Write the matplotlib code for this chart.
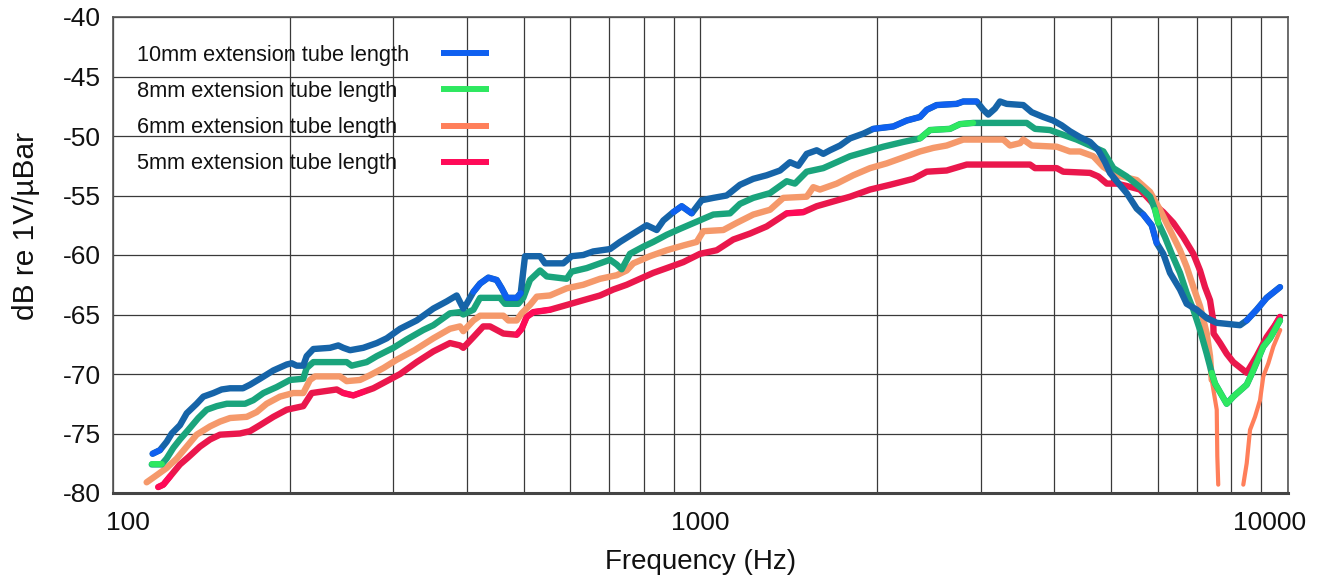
import numpy as np
import matplotlib
matplotlib.use("Agg")
import matplotlib.pyplot as plt
from matplotlib.lines import Line2D
from matplotlib.transforms import ScaledTranslation
from matplotlib.ticker import LogLocator, NullFormatter

plt.rcParams['font.family'] = ['Liberation Sans', 'DejaVu Sans']
plt.rcParams['axes.unicode_minus'] = False

# ---------------- data ----------------
labels = ["10mm extension tube length", "8mm extension tube length",
          "6mm extension tube length", "5mm extension tube length"]

f10 = [116.8, 120.2, 123.4, 125.9, 130.0, 133.5, 138.8, 142.5, 148.2, 153.1, 158.2, 166.4,
       171.1, 177.9, 187.5, 197.6, 201.5, 205.4, 210.8, 213.6, 219.3, 234.1, 241.8, 246.6,
       253.2, 266.7, 281.2, 292.4, 308.1, 328.8, 351.0, 369.8, 384.6, 394.7, 399.9, 410.6,
       421.5, 435.4, 449.9, 458.8, 467.9, 486.6, 494.3, 502.7, 533.2, 543.7, 584.0, 603.4,
       631.6, 656.8, 701.5, 729.5, 768.5, 809.9, 842.3, 864.5, 898.9, 928.9, 966.1, 1004.6,
       1051.4, 1108, 1167.5, 1229.8, 1296.1, 1365.5, 1420, 1467, 1516.3, 1576.8, 1618.2, 1661,
       1727.8, 1797.1, 1892.9, 1968.5, 2129, 2244, 2364, 2427, 2523, 2729, 2801, 2952, 3030,
       3089, 3171, 3234, 3320, 3543, 3662, 3831, 3984, 4118, 4254, 4426, 4603, 4755, 4882,
       4977, 5110, 5314, 5527, 5671, 5861, 5977, 6134, 6297, 6549, 6723, 6994, 7272, 7563,
       8286, 8506, 8844, 9197, 9692]
db10 = [-76.7, -76.4, -75.7, -75.0, -74.3, -73.3, -72.5, -71.9, -71.6, -71.3, -71.2, -71.2,
        -70.9, -70.4, -69.7, -69.2, -69.1, -69.3, -69.3, -68.5, -67.9, -67.8, -67.6, -67.8,
        -68.0, -67.8, -67.4, -67.0, -66.2, -65.5, -64.5, -63.9, -63.4, -64.5, -64.1, -63.1,
        -62.4, -61.9, -62.1, -62.8, -63.6, -63.6, -63.2, -60.1, -60.1, -60.7, -60.7, -60.1,
        -60.0, -59.7, -59.5, -58.9, -58.2, -57.5, -57.9, -57.1, -56.4, -55.9, -56.5, -55.4,
        -55.2, -55.0, -54.1, -53.6, -53.3, -52.9, -52.2, -52.5, -51.5, -51.2, -51.5, -51.2,
        -50.8, -50.2, -49.8, -49.4, -49.2, -48.7, -48.4, -47.8, -47.4, -47.3, -47.1, -47.1, -47.8,
        -48.2, -47.7, -47.1, -47.3, -47.4, -48.0, -48.4, -48.7, -49.1, -49.6, -50.1, -50.5, -51.2, -52.2,
        -53.1, -53.8, -54.8, -56.1, -56.6, -57.5, -59.0, -59.9, -61.5, -62.9, -64.1, -64.6, -65.3, -65.7,
        -65.9, -65.5, -64.6, -63.6, -62.7]

f8 = [116.4, 121.0, 123.4, 126.7, 130.0, 134.3, 139.7, 144.4, 150.2, 156.2, 167.8, 173.3,
      180.3, 189.9, 200.1, 210.8, 213.6, 219.3, 249.9, 254.8, 270.3, 281.2, 300.1, 316.2,
      337.5, 351.0, 374.6, 389.6, 394.7, 410.6, 421.5, 455.8, 464.8, 489.6, 499.3, 512.6,
      533.2, 547.4, 591.9, 603.4, 640.2, 674.6, 701.5, 720.1, 734.3, 758.6, 799.2, 831.2,
      876.1, 922.9, 985.2, 1051.4, 1122.6, 1167.5, 1229.8, 1313, 1402, 1448, 1516.3, 1618.2,
      1705.6, 1797.1, 1918.3, 2047, 2214, 2364, 2458, 2659, 2765, 2913, 3591, 3710, 3934,
      4144, 4368, 4603, 4850, 5044, 5314, 5599, 5824, 5939, 6016, 6175, 6339, 6549, 6723,
      6901, 7084, 7272, 7416, 7513, 7864, 8070, 8506, 8727, 9078, 9320, 9692]
db8 = [-77.6, -77.6, -77.1, -76.2, -75.5, -74.7, -73.7, -73.0, -72.7, -72.5, -72.5, -72.2,
       -71.6, -71.1, -70.5, -70.4, -69.5, -69.0, -69.0, -69.3, -69.0, -68.5, -67.8, -67.1,
       -66.3, -65.9, -64.9, -64.8, -65.0, -64.6, -63.6, -63.6, -64.1, -64.1, -63.6, -62.1,
       -61.3, -61.8, -62.0, -61.4, -61.1, -60.7, -60.4, -60.8, -61.2, -59.9, -59.3, -58.9,
       -58.3, -57.8, -57.2, -56.6, -56.5, -55.7, -55.2, -54.8, -53.8, -54.0, -53.0, -52.7,
       -52.2, -51.7, -51.3, -50.9, -50.5, -50.2, -49.5, -49.4, -49.0, -48.9, -48.9, -49.4, -49.5,
       -49.9, -50.3, -50.8, -51.3, -52.7, -53.4, -54.3, -55.1, -56.2, -57.3, -58.5, -59.9, -61.5, -63.2,
       -64.6, -66.3, -68.3, -69.9, -70.8, -72.5, -71.9, -70.9, -69.7, -67.7, -67.0, -65.5]

f6 = [114.1, 118.7, 123.4, 128.4, 133.5, 138.8, 146.3, 152.1, 158.2, 168.9, 175.6, 182.6,
      192.4, 202.7, 210.8, 216.4, 220.8, 243.4, 249.9, 263.3, 273.8, 288.6, 304.1, 326.0,
      351.0, 374.6, 389.6, 394.7, 410.6, 421.5, 461.8, 470.9, 486.6, 496.2, 512.6, 526.4,
      554.4, 591.9, 631.6, 674.6, 720.1, 748.8, 768.5, 820.4, 876.1, 934.8, 985.2, 1011,
      1093.6, 1152.5, 1229.8, 1313, 1383.6, 1516.3, 1555.9, 1597.2, 1705.6, 1820, 1943.6,
      2074.6, 2244, 2364, 2491, 2624, 2801, 3277, 3364, 3499, 3543, 3662, 4040, 4254, 4426,
      4662, 4850, 5110, 5527, 5824, 6055, 6297, 6549, 6723, 6901, 7084, 7272, 7367, 7416,
      7563, 7580, 7608, 8000, 8393, 8506, 8617, 8787, 8961, 9078, 9258, 9441, 9700]
db6 = [-79.1, -78.5, -77.9, -77.1, -76.1, -75.1, -74.4, -74.0, -73.7, -73.6, -73.2, -72.5,
       -71.9, -71.6, -71.6, -70.5, -70.2, -70.2, -70.6, -70.5, -70.1, -69.5, -68.8, -68.0,
       -67.0, -66.2, -66.0, -66.4, -65.5, -65.1, -65.1, -65.5, -65.5, -64.9, -64.2, -63.5,
       -63.4, -62.8, -62.5, -62.0, -61.7, -61.3, -60.7, -60.1, -59.6, -59.2, -58.9, -58.0,
       -57.9, -57.3, -56.6, -56.2, -55.2, -55.1, -54.3, -54.5, -54.0, -53.3, -52.7,
       -52.3, -51.7, -51.3, -51.0, -50.8, -50.3, -50.3, -50.8, -50.6, -50.3, -50.8, -50.9, -51.3, -51.3,
       -51.7, -52.6, -53.3, -53.7, -54.7, -56.2, -57.9, -59.6, -61.0, -62.7, -64.3, -66.6, -68.5, -70.5,
       -73.0, -76.9, -79.3, np.nan, -79.3, -77.5, -74.7, -73.6, -72.2, -70.2, -69.1, -67.7, -66.3]

f5 = [119.4, 121.8, 125.1, 130.0, 134.3, 140.6, 146.3, 152.1, 164.5, 171.1, 177.9, 187.5,
      197.6, 210.8, 217.9, 225.1, 240.3, 246.6, 256.5, 266.7, 277.4, 292.4, 308.1, 328.8,
      351.0, 374.6, 389.6, 394.7, 410.6, 426.8, 438.2, 449.9, 461.8, 486.6, 496.2, 506.0,
      519.4, 554.4, 591.9, 631.6, 674.6, 710.6, 748.8, 788.9, 831.2, 876.1, 934.8, 998,
      1065.6, 1137, 1214, 1296, 1402, 1496, 1576.8, 1683, 1797.1, 1943.6, 2102, 2302, 2427,
      2624, 2839, 3638, 3710, 4040, 4144, 4603, 4755, 4915, 5110, 5314, 5599, 5898, 6134,
      6380, 6634, 6901, 7084, 7224, 7367, 7459, 7470, 7662, 7864, 8070, 8506, 8844, 9197,
      9504, 9692]
db5 = [-79.5, -79.3, -78.6, -77.6, -77.0, -76.1, -75.5, -75.1, -75.0, -74.8, -74.3, -73.6,
       -73.0, -72.7, -71.6, -71.5, -71.3, -71.6, -71.8, -71.5, -71.2, -70.6, -70.0, -69.0,
       -68.1, -67.4, -67.6, -67.8, -66.9, -66.0, -66.0, -66.3, -66.6, -66.7, -66.2, -65.2,
       -64.8, -64.6, -64.2, -63.8, -63.4, -62.9, -62.5, -62.0, -61.5, -61.1, -60.6, -59.9,
       -59.6, -58.7, -58.2, -57.6, -56.5, -56.4, -55.9, -55.5, -55.1, -54.5, -54.1, -53.6, -53.0,
       -52.9, -52.4, -52.4, -52.7, -52.7, -53.0, -53.1, -53.4, -54.0, -54.0, -54.2, -54.5, -55.7, -56.4,
       -57.3, -58.5, -59.9, -61.3, -62.7, -63.8, -65.5, -66.6, -67.4, -68.3, -69.0, -69.9, -68.5, -66.9,
       -65.9, -65.2]

xticks = [100, 1000, 10000]
xtick_labels = ["100", "1000", "10000"]
yticks = [-80, -75, -70, -65, -60, -55, -50, -45, -40]

# ---------------- style ----------------
dark_cols = ["#1664a8", "#1aa47c", "#f5996b", "#ea174c"]
bright_cols = ["#0f60f0", "#2ee860", "#ff7f5a", "#ff0a58"]
bright_ranges = [
    [(110, 121), (405, 500), (880, 1000), (1900, 2960), (5550, 6000), (8300, 11000)],
    [(110, 122), (495, 505), (2300, 2950), (5900, 6020), (7400, 11000)],
    [],
    [(115, 127), (243, 275), (486, 560), (1400, 1500), (9400, 11000)],
]

fig = plt.figure(figsize=(13.29, 5.82), dpi=100)
ax = fig.add_axes([113 / 1329, 89 / 582, 1175 / 1329, 476 / 582])
ax.set_xscale('log')
ax.set_xlim(100, 10000)
ax.set_ylim(-80, -40)

series = [(f10, db10), (f8, db8), (f6, db6), (f5, db5)]
zorders = [6, 5, 4, 3]
LW = 4.6
for k, (f, d) in enumerate(series):
    f = np.asarray(f, float)
    d = np.asarray(d, float)
    if k == 2:
        m = f <= 7416
        ax.plot(f[m], d[m], color=dark_cols[k], lw=LW, zorder=zorders[k],
                solid_capstyle='round', solid_joinstyle='round')
        t = f >= 7416
        ax.plot(f[t], d[t], color=bright_cols[k], lw=3.0, zorder=zorders[k],
                solid_capstyle='round', solid_joinstyle='round')
    else:
        ax.plot(f, d, color=dark_cols[k], lw=LW, zorder=zorders[k],
                solid_capstyle='round', solid_joinstyle='round')
        for lo, hi in bright_ranges[k]:
            m = (f >= lo) & (f <= hi)
            if m.sum() >= 2:
                ax.plot(f[m], d[m], color=bright_cols[k], lw=LW - 0.4,
                        zorder=zorders[k] + 0.1,
                        solid_capstyle='round', solid_joinstyle='round')

# grid & axes
ax.xaxis.set_minor_locator(LogLocator(base=10, subs=range(2, 10)))
ax.xaxis.set_minor_formatter(NullFormatter())
ax.set_xticks(xticks)
ax.set_xticklabels(xtick_labels)
ax.set_yticks(yticks)
ax.set_yticklabels([str(v) for v in yticks])
ax.grid(True, which='both', color='#3a3a3a', lw=0.9)
ax.set_axisbelow(True)
ax.tick_params(which='both', length=0)
ax.tick_params(axis='x', pad=13, labelsize=19, colors='#111111')
ax.tick_params(axis='y', pad=9, labelsize=19, colors='#111111')
for s in ['left', 'right', 'top']:
    ax.spines[s].set_color('#555555')
    ax.spines[s].set_linewidth(1.2)
ax.spines['bottom'].set_color('#444444')
ax.spines['bottom'].set_linewidth(2.2)

# shift end x tick labels inward
xl = ax.get_xticklabels()
xl[0].set_transform(xl[0].get_transform() + ScaledTranslation(0.15, 0, fig.dpi_scale_trans))
xl[-1].set_transform(xl[-1].get_transform() + ScaledTranslation(-0.18, 0, fig.dpi_scale_trans))

ax.set_xlabel("Frequency (Hz)", fontsize=20, color='#111111')
ax.xaxis.set_label_coords(0.5, -0.118)
fig.text(26 / 1329, 1 - 226 / 582, "dB re 1V/µBar", rotation=90, fontsize=21.5,
         ha='center', va='center', color='#111111')

# legend: texts (left) and handles (right)
LEG_Y = 0.941
LSP = 0.69
blank = [Line2D([], [], linestyle='none') for _ in labels]
leg1 = ax.legend(blank, labels, loc='upper left', bbox_to_anchor=(0.0204, LEG_Y),
                 frameon=False, fontsize=15.7, handlelength=0, handletextpad=0,
                 borderpad=0, borderaxespad=0, labelspacing=LSP)
for t in leg1.get_texts():
    t.set_color('#111111')
ax.add_artist(leg1)
hands = [Line2D([], [], color=c, lw=4.3, solid_capstyle='butt') for c in bright_cols]
ax.legend(hands, [""] * 4, loc='upper left', bbox_to_anchor=(0.2791, LEG_Y),
          frameon=False, fontsize=15.7, handlelength=2.2, handletextpad=0,
          borderpad=0, borderaxespad=0, labelspacing=LSP)

fig.savefig("out.png", dpi=100)
